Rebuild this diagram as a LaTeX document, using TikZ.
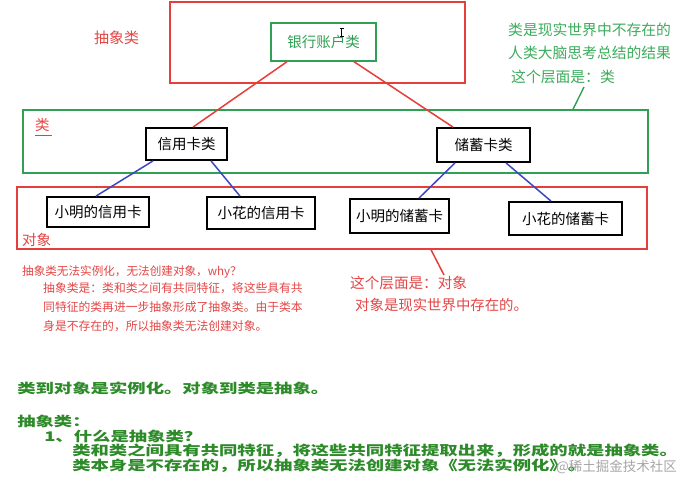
\documentclass[tikz,border=0pt]{standalone}
\usepackage{fontspec}
\setmainfont{Noto Sans CJK SC}
\usetikzlibrary{calc}
\definecolor{lred}{RGB}{230,62,58}
\definecolor{tred}{RGB}{228,70,70}
\definecolor{lgreen}{RGB}{48,160,84}
\definecolor{tgreen}{RGB}{60,172,92}
\definecolor{dgreen}{RGB}{44,138,40}
\definecolor{lblue}{RGB}{62,72,190}
\tikzset{
  layer/.style={draw, line width=1.4pt, inner sep=0pt},
  cbox/.style={draw=black, line width=1.8pt, fill=white, inner sep=0pt, font=\fontsize{14.5}{16}\selectfont},
  txt/.style={inner sep=0pt, anchor=west},
  redline/.style={lred, line width=1.5pt},
  blueline/.style={lblue, line width=1.5pt},
}
\begin{document}
\begin{tikzpicture}[x=1pt,y=-1pt]
\useasboundingbox[fill=white] (0,0) rectangle (683,483);
% layers
\node[layer, draw=lred, minimum width=295, minimum height=81] (abslayer) at (317.5,42.5) {};
\node[layer, draw=lgreen, minimum width=625, minimum height=63] (clslayer) at (335.5,141.5) {};
\node[layer, draw=lred, minimum width=630, minimum height=62] (objlayer) at (332,218) {};
% boxes
\node[cbox, draw=lgreen, line width=1.4pt, text=lgreen, minimum width=105, minimum height=38] (bank) at (323.5,42) {银行账户类};
\node[cbox, minimum width=81, minimum height=32] (xyk) at (186.5,144) {信用卡类};
\node[cbox, minimum width=93, minimum height=34] (cxk) at (483.5,145) {储蓄卡类};
\node[cbox, minimum width=102, minimum height=30] (o1) at (98,212) {小明的信用卡};
\node[cbox, minimum width=108, minimum height=32] (o2) at (261,213) {小花的信用卡};
\node[cbox, minimum width=99, minimum height=34] (o3) at (399.5,216) {小明的储蓄卡};
\node[cbox, minimum width=113, minimum height=33] (o4) at (565.5,218.5) {小花的储蓄卡};
% I-beam cursor
\draw[line width=0.6pt] (341.5,28) -- (341.5,36) (339.5,28) -- (343.5,28) (339.5,36) -- (343.5,36);
% connectors
\draw[redline] ($(bank.south)+(-36.5,0)$) -- ($(xyk.north)+(6.5,0)$);
\draw[redline] ($(bank.south)+(30.5,0)$) -- ($(cxk.north)+(-30.5,0)$);
\draw[blueline] ($(xyk.south)+(-33.5,0)$) -- ($(o1.north)+(-2,0)$);
\draw[blueline] ($(xyk.south)+(24.5,0)$) -- ($(o2.north)+(-21,0)$);
\draw[blueline] ($(cxk.south)+(-28.5,0)$) -- ($(o3.north)+(19.5,0)$);
\draw[blueline] ($(cxk.south)+(22.5,0)$) -- ($(o4.north)+(-14.5,0)$);
% labels
\node[txt, text=tred, font=\fontsize{15}{17}\selectfont] (lblabs) at (94,38) {抽象类};
\node[txt, text=tred, font=\fontsize{14.5}{16}\selectfont] (lblcls) at (35,125) {类};
\draw[lred, line width=0.9pt] (35,135) -- (52,135);
\node[txt, text=tred, font=\fontsize{14.5}{16}\selectfont] (lblobj) at (22,240) {对象};
% top right notes
\node[txt, text=tgreen, font=\fontsize{14.8}{17}\selectfont] (g1) at (508,30) {类是现实世界中不存在的};
\node[txt, text=tgreen, font=\fontsize{14.8}{17}\selectfont] (g2) at (508,53) {人类大脑思考总结的结果};
\node[txt, text=tgreen, font=\fontsize{14.8}{17}\selectfont] (g3) at (511,77) {这个层面是：类};
\coordinate (gtip) at (584,87);
\draw[lgreen, line width=1.4pt] (gtip) -- ($(clslayer.north)+(237.5,0)$);
% object notes
\coordinate (rtip) at (444,275);
\draw[redline] ($(objlayer.south)+(99,0)$) -- (rtip);
\node[txt, text=tred, font=\fontsize{14.6}{17}\selectfont] (r1) at (350,283) {这个层面是：对象};
\node[txt, text=tred, font=\fontsize{14.4}{17}\selectfont] (r2) at (355,305) {对象是现实世界中存在的。};
% small red notes
\node[txt, text=tred, font=\fontsize{11.6}{13}\selectfont] (s1) at (22,272) {抽象类无法实例化，无法创建对象，why？};
\node[txt, text=tred, font=\fontsize{11.8}{13}\selectfont] (s2) at (43,288) {抽象类是：类和类之间有共同特征，将这些具有共};
\node[txt, text=tred, font=\fontsize{11.8}{13}\selectfont] (s3) at (43,307) {同特征的类再进一步抽象形成了抽象类。由于类本};
\node[txt, text=tred, font=\fontsize{11.8}{13}\selectfont] (s4) at (43,326) {身是不存在的，所以抽象类无法创建对象。};
% bottom green bold notes
\tikzset{bnote/.style={txt, text=dgreen, font=\bfseries\fontsize{13.3}{15}\selectfont, xscale=1.38}}
\node[bnote] (b1) at (17,388) {类到对象是实例化。对象到类是抽象。};
\node[bnote] (b2) at (17,421) {抽象类：};
\node[bnote] (b3) at (44,436) {1、什么是抽象类？};
\node[bnote] (b4) at (72,451) {类和类之间具有共同特征，将这些共同特征提取出来，形成的就是抽象类。};
\node[bnote] (b5) at (72,466) {类本身是不存在的，所以抽象类无法创建对象《无法实例化》。};
\node[txt, text=black!35, font=\fontsize{13.5}{16}\selectfont] (wm) at (556,467) {@稀土掘金技术社区};
\end{tikzpicture}
\end{document}
